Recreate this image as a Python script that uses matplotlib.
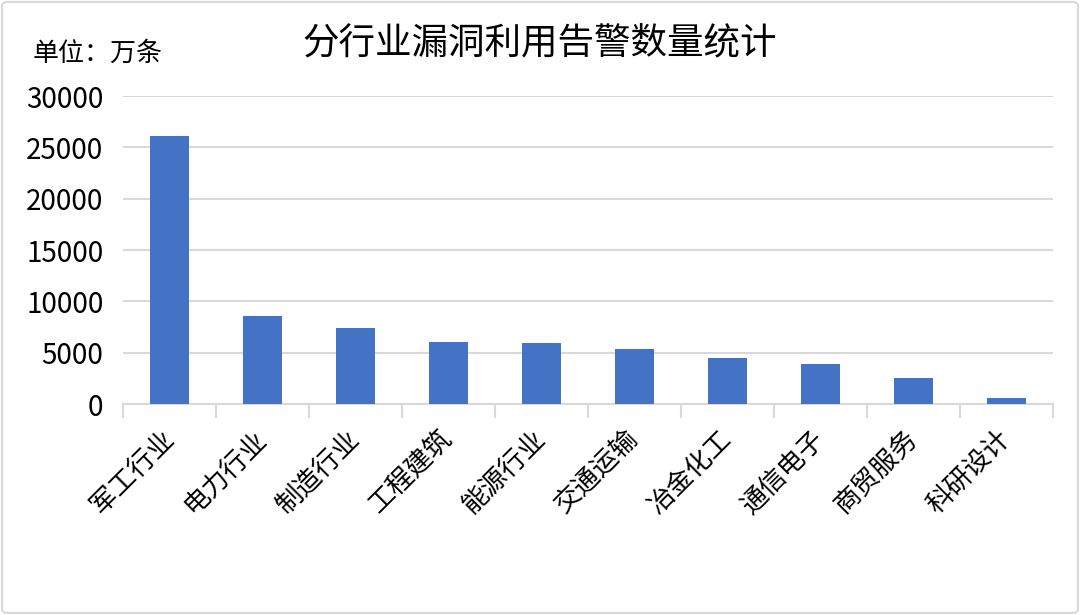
import matplotlib
matplotlib.use("Agg")
import matplotlib.pyplot as plt
from matplotlib.patches import FancyBboxPatch
import numpy as np

plt.rcParams['font.family'] = ['Noto Sans CJK SC', 'DejaVu Sans']

categories = ["军工行业", "电力行业", "制造行业", "工程建筑", "能源行业",
              "交通运输", "冶金化工", "通信电子", "商贸服务", "科研设计"]
values = [26150, 8550, 7400, 6080, 5980, 5390, 4450, 3860, 2520, 630]
yticks = [0, 5000, 10000, 15000, 20000, 25000, 30000]
title = "分行业漏洞利用告警数量统计"
unit_label = "单位：万条"

fig = plt.figure(figsize=(10.8, 6.15), dpi=100)
ax = fig.add_axes([123/1080, 1-404/615, (1053-123)/1080, (404-96)/615])

x = np.arange(len(categories))
ax.bar(x, values, width=0.43, color="#4472C4", zorder=3)

ax.set_xlim(-0.5, len(categories) - 0.5)
ax.set_ylim(0, 30000)
ax.set_yticks(yticks)
ax.set_yticklabels([str(v) for v in yticks], fontsize=20)
ax.tick_params(axis='y', length=0, pad=14)
ax.yaxis.grid(True, color="#d9d9d9", linewidth=1.5, zorder=0)
ax.set_axisbelow(True)

ax.set_xticks(x)
ax.set_xticklabels(categories, fontsize=19, rotation=45, ha='right', va='center',
                   rotation_mode='anchor')
ax.tick_params(axis='x', which='major', length=0, pad=22)
ax.set_xticks(np.arange(-0.5, len(categories), 1.0), minor=True)
ax.tick_params(axis='x', which='minor', length=10, width=1.5, color="#d9d9d9")

for s in ['top', 'right', 'left']:
    ax.spines[s].set_visible(False)
ax.spines['bottom'].set_color("#d9d9d9")
ax.spines['bottom'].set_linewidth(1.5)

fig.text(0.5, 1-44/615, title, ha='center', va='center', fontsize=26.3)
fig.text(33/1080, 1-53/615, unit_label, ha='left', va='center', fontsize=18.7)

border = FancyBboxPatch((2/1080, 2/615), 1-4/1080, 1-4/615,
                        boxstyle="round,pad=0,rounding_size=0.006",
                        transform=fig.transFigure, fill=False,
                        edgecolor="#d9d9d9", linewidth=1.5)
fig.patches.append(border)

fig.savefig("out.png", dpi=100, facecolor="white")
